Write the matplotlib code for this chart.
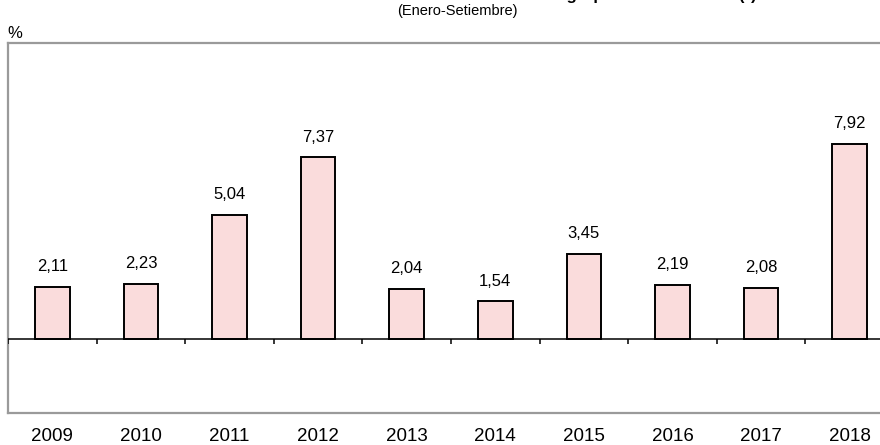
import numpy as np
import matplotlib.pyplot as plt

plt.rcParams['font.family'] = ['Liberation Sans', 'DejaVu Sans']

years = ['2009', '2010', '2011', '2012', '2013', '2014', '2015', '2016', '2017', '2018']
values = [2.11, 2.23, 5.04, 7.37, 2.04, 1.54, 3.45, 2.19, 2.08, 7.92]
labels = ['2,11', '2,23', '5,04', '7,37', '2,04', '1,54', '3,45', '2,19', '2,08', '7,92']

fig = plt.figure(figsize=(8.8, 4.45), dpi=100)
ax = fig.add_axes([8 / 880, 32 / 445, 886 / 880, 370 / 445])

x = np.arange(len(years)) + 0.5
bars = ax.bar(x, values, width=0.39, color='#fadcdc', edgecolor='black', linewidth=1.4, zorder=3)

for xi, v, lab in zip(x, values, labels):
    ax.annotate(lab, (xi, v), xytext=(0, 9), textcoords='offset points',
                ha='center', va='bottom', fontsize=12)

# zero line with small ticks between categories
ax.axhline(0, color='black', linewidth=1.1, zorder=4)
ax.vlines(np.arange(len(years) + 1), -0.2, 0, color='black', linewidth=1.1, zorder=4)

ax.set_xlim(0, len(years))
ax.set_ylim(-3, 12)
ax.set_yticks([])
ax.set_xticks(x)
ax.set_xticklabels(years, fontsize=13.5)
ax.tick_params(axis='x', length=0, pad=11)
for s in ax.spines.values():
    s.set_color('#9a9a9a')
    s.set_linewidth(1.6)

fig.text(15 / 880, 1 - 33 / 445, '%', ha='center', va='center', fontsize=12)
fig.text(457 / 880, 1 - 11 / 445, '(Enero-Setiembre)', ha='center', va='center', fontsize=10.5)
fig.text(757 / 880, 1.0, 'Crecimiento del sector agropecuario nacional (*)',
         ha='right', va='baseline', fontsize=12, fontweight='bold')

fig.savefig('out.png', dpi=100)
